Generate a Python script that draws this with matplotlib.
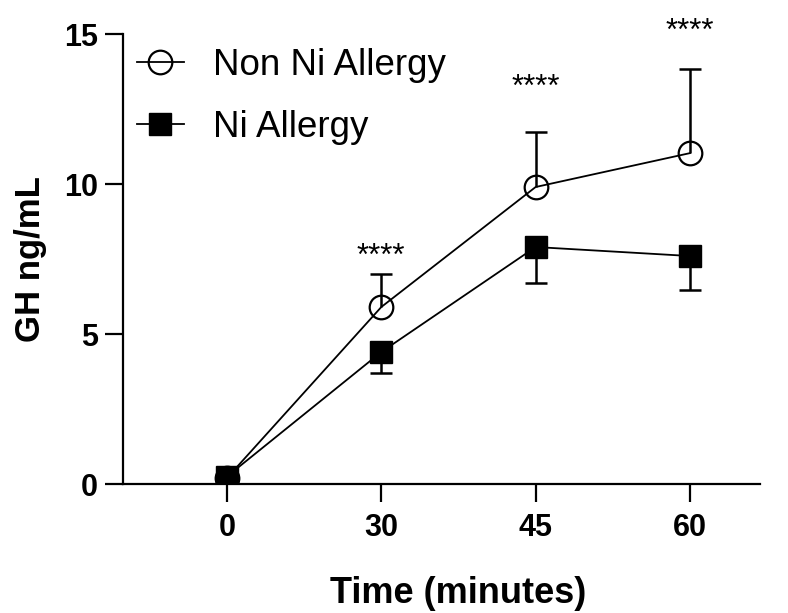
import matplotlib
matplotlib.use("Agg")
import matplotlib.pyplot as plt
from matplotlib.lines import Line2D
import numpy as np

plt.rcParams['font.family'] = ['Liberation Sans', 'DejaVu Sans']

# time points (minutes) and group means / one-sided SEM
time_labels = ["0", "30", "45", "60"]
non_ni_mean = [0.2, 5.9, 9.9, 11.03]
non_ni_err = [0.1, 1.1, 1.83, 2.8]      # shown upward only
ni_mean = [0.25, 4.4, 7.9, 7.6]
ni_err = [0.1, 0.7, 1.2, 1.13]          # shown downward only

# significance marks above each time point
star_idx = [1, 2, 3]
star_y = [7.57, 13.22, 15.07]
star_text = "****"

x = np.arange(len(time_labels))


def one_sided_err(ax, xs, ys, err, sign, zorder):
    """vertical error bar on one side only, with a cap at the far end"""
    ends = np.array(ys) + sign * np.array(err)
    ax.vlines(xs, ys, ends, color='black', lw=1.8, zorder=zorder)
    ax.plot(xs, ends, ls='none', marker='_', ms=16, mew=1.8, color='black',
            zorder=zorder)


fig = plt.figure(figsize=(7.88, 6.13), dpi=100)
ax = fig.add_axes([0.156, 0.2104, 0.8085, 0.7341])

one_sided_err(ax, x, non_ni_mean, non_ni_err, 1, 2)
one_sided_err(ax, x, ni_mean, ni_err, -1, 2)

ax.plot(x, non_ni_mean, color='black', lw=1.3, marker='o', ms=17,
        mfc='none', mec='black', mew=1.6, zorder=3)
ax.plot(x, ni_mean, color='black', lw=1.3, marker='s', ms=16,
        mfc='black', mec='black', zorder=4)

for i, yv in zip(star_idx, star_y):
    ax.text(x[i], yv, star_text, ha='center', va='center', fontsize=22.5,
            clip_on=False)

ax.set_xlim(-0.674, 3.454)
ax.set_ylim(0, 15)
ax.set_xticks(x)
ax.set_xticklabels(time_labels)
ax.set_yticks([0, 5, 10, 15])

for s in ['top', 'right']:
    ax.spines[s].set_visible(False)
for s in ['left', 'bottom']:
    ax.spines[s].set_linewidth(1.6)

ax.tick_params(axis='both', length=13, width=1.6, labelsize=22)
ax.tick_params(axis='x', pad=8)
ax.tick_params(axis='y', pad=5)
for lab in ax.get_xticklabels() + ax.get_yticklabels():
    lab.set_fontweight('bold')

ax.set_xlabel('Time (minutes)', fontsize=26, fontweight='bold')
ax.xaxis.set_label_coords(0.526, -0.204)
ax.set_ylabel('GH ng/mL', fontsize=25, fontweight='bold', labelpad=12)

handles = [
    Line2D([], [], color='black', lw=1.3, marker='o', ms=17, mfc='none',
           mec='black', mew=1.6),
    Line2D([], [], color='black', lw=1.3, marker='s', ms=16, mfc='black'),
]
ax.legend(handles, ['Non Ni Allergy', 'Ni Allergy'], loc='upper left',
          bbox_to_anchor=(0.155, 0.946), bbox_transform=fig.transFigure,
          frameon=False, fontsize=26.5, handlelength=1.28, handletextpad=0.8,
          labelspacing=0.74, borderaxespad=0)

fig.savefig("out.png", dpi=100)
